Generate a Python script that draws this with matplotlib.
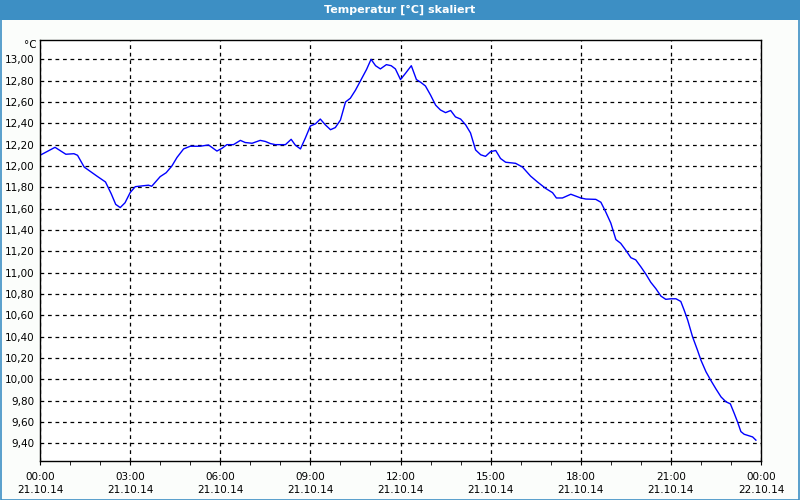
import matplotlib
matplotlib.use('Agg')
import matplotlib.pyplot as plt
from matplotlib.patches import Rectangle
from matplotlib.ticker import MultipleLocator, FuncFormatter

# hours since 21.10.14 00:00 and temperature in degC
hours = [0.00, 0.50, 0.86, 1.13, 1.25, 1.47, 1.89, 2.18, 2.37, 2.52, 2.67, 2.83,
         3.00, 3.17, 3.61, 3.72, 4.00, 4.20, 4.39, 4.56, 4.78, 5.00, 5.33, 5.61,
         5.89, 6.06, 6.22, 6.44, 6.67, 6.83, 7.06, 7.33, 7.50, 7.67, 7.83, 8.17,
         8.36, 8.50, 8.67, 8.83, 9.00, 9.17, 9.33, 9.50, 9.67, 9.83, 10.00, 10.17,
         10.33, 10.50, 10.67, 10.87, 11.02, 11.17, 11.33, 11.53, 11.69, 11.83,
         12.00, 12.17, 12.36, 12.53, 12.67, 12.83, 13.00, 13.17, 13.33, 13.50,
         13.67, 13.83, 14.00, 14.17, 14.33, 14.50, 14.67, 14.83, 15.00, 15.17,
         15.33, 15.50, 15.67, 15.83, 16.06, 16.33, 16.56, 16.83, 17.06, 17.19,
         17.39, 17.67, 18.00, 18.17, 18.50, 18.67, 18.83, 19.00, 19.17, 19.33,
         19.50, 19.67, 19.83, 20.00, 20.17, 20.33, 20.50, 20.67, 20.83, 21.00,
         21.17, 21.33, 21.44, 21.56, 21.72, 21.89, 22.00, 22.17, 22.33, 22.50,
         22.67, 22.83, 22.98, 23.11, 23.22, 23.33, 23.44, 23.61, 23.72, 23.83]
temps = [12.10, 12.175, 12.11, 12.115, 12.10, 11.99, 11.906, 11.85, 11.74, 11.64, 11.61, 11.655,
         11.75, 11.806, 11.82, 11.81, 11.90, 11.937, 12.00, 12.08, 12.16, 12.185, 12.185, 12.197,
         12.14, 12.166, 12.20, 12.20, 12.24, 12.22, 12.213, 12.24, 12.23, 12.21, 12.20, 12.20,
         12.25, 12.195, 12.16, 12.26, 12.375, 12.395, 12.44, 12.385, 12.34, 12.36, 12.43, 12.60,
         12.635, 12.71, 12.80, 12.905, 13.00, 12.94, 12.91, 12.95, 12.94, 12.91,
         12.81, 12.87, 12.94, 12.81, 12.785, 12.75, 12.665, 12.57, 12.525, 12.50,
         12.52, 12.46, 12.44, 12.385, 12.31, 12.15, 12.105, 12.09, 12.135, 12.145,
         12.07, 12.035, 12.03, 12.025, 11.99, 11.905, 11.85, 11.79, 11.75, 11.70,
         11.70, 11.735, 11.70, 11.69, 11.687, 11.66, 11.57, 11.465, 11.31, 11.275,
         11.21, 11.14, 11.12, 11.055, 10.985, 10.91, 10.85, 10.78, 10.75, 10.755,
         10.755, 10.73, 10.65, 10.555, 10.40, 10.27, 10.18, 10.07, 9.99, 9.91,
         9.835, 9.79, 9.77, 9.68, 9.60, 9.51, 9.485, 9.47, 9.46, 9.43]

tick_hours = [0, 3, 6, 9, 12, 15, 18, 21, 24]
tick_labels = ['00:00\n21.10.14', '03:00\n21.10.14', '06:00\n21.10.14', '09:00\n21.10.14',
               '12:00\n21.10.14', '15:00\n21.10.14', '18:00\n21.10.14', '21:00\n21.10.14',
               '00:00\n22.10.14']

plt.rcParams['font.family'] = 'DejaVu Sans'
plt.rcParams['font.size'] = 7.5

bg = '#fbfdfb'
blue = '#3d8fc4'
fig = plt.figure(figsize=(8, 5), dpi=100, facecolor=bg)

# title bar and frame
fig.patches.append(Rectangle((0, 0.96), 1, 0.04, transform=fig.transFigure,
                             facecolor=blue, edgecolor='none', zorder=0))
fig.patches.append(Rectangle((0.0008, 0.001), 0.9984, 0.998, transform=fig.transFigure,
                             facecolor='none', edgecolor=blue, lw=1.2, zorder=0))
fig.text(0.5, 0.98, 'Temperatur [°C] skaliert', color='white', fontweight='bold',
         fontsize=8, ha='center', va='center')

ax = fig.add_axes([0.05, 0.079, 0.90125, 0.841])
ax.plot(hours, temps, color='#0000ff', lw=1)

ax.set_xlim(0, 24)
ax.set_ylim(9.239, 13.181)

ax.set_xticks(tick_hours)
ax.set_xticklabels(tick_labels, linespacing=1.45)
ax.xaxis.set_minor_locator(MultipleLocator(1))
ax.yaxis.set_major_locator(MultipleLocator(0.2))
ax.yaxis.set_major_formatter(FuncFormatter(lambda v, p: f'{v:.2f}'.replace('.', ',')))

ax.tick_params(axis='y', length=0, pad=4)
ax.tick_params(axis='x', which='both', length=3, pad=5)

ax.grid(True, which='major', color='black', linestyle=(0, (3, 3)), linewidth=0.9)
for s in ax.spines.values():
    s.set_linewidth(1)

ax.text(-0.005, 1.0, '°C', transform=ax.transAxes, ha='right', va='top')

plt.savefig('out.png', dpi=100, facecolor=bg)
